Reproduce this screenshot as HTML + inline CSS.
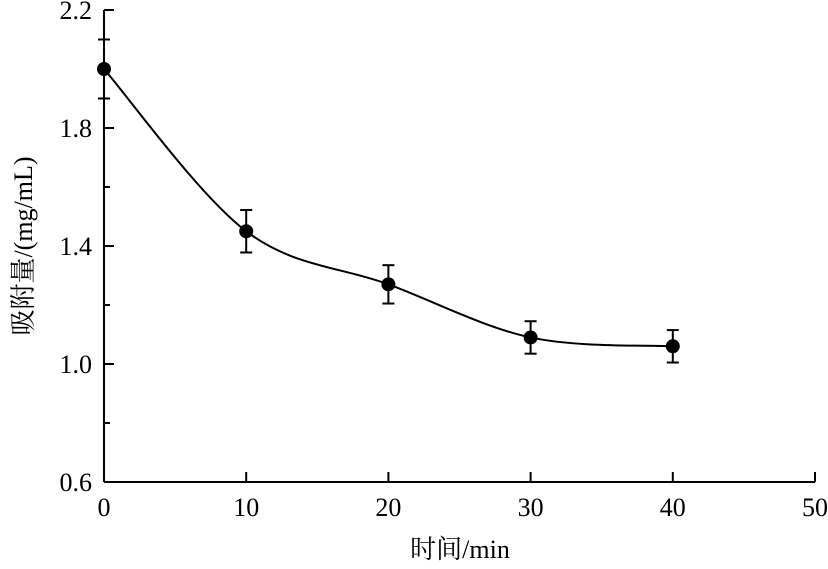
<!DOCTYPE html>
<html><head><meta charset="utf-8"><style>
body{margin:0;background:#fff}
svg text{font-family:"Liberation Serif","Noto Serif CJK SC",serif;fill:#000}
</style></head><body>
<svg id="chart" width="828" height="564" viewBox="0 0 828 564" xmlns="http://www.w3.org/2000/svg">
<g id="axes"></g><g id="series"></g>
<text x="460" y="558" font-size="26" text-anchor="middle">时间/min</text>
<text transform="translate(32,246) rotate(-90)" font-size="26" text-anchor="middle">吸附量/(mg/mL)</text>
</svg>
<script>
const times=[0,10,20,30,40];
const adsorption=[2.0,1.45,1.27,1.09,1.06];
const errors=[0.1,0.072,0.065,0.055,0.055];
const xTicks=[0,10,20,30,40,50];
const yTicks=[0.6,1.0,1.4,1.8,2.2];
const yMinor=[0.8,1.2,1.6,2.0];
const X0=104,X1=815,Y0=482,Y1=10;
const sx=v=>X0+(v-0)/(50-0)*(X1-X0);
const sy=v=>Y0-(v-0.6)/(2.2-0.6)*(Y0-Y1);
const NS='http://www.w3.org/2000/svg';
function mk(tag,attrs,parent){const e=document.createElementNS(NS,tag);for(const k in attrs)e.setAttribute(k,attrs[k]);parent.appendChild(e);return e;}
const ax=document.getElementById('axes');
let l=mk('line',{x1:X0,y1:Y0,x2:X1,y2:Y0,stroke:'#000','stroke-width':2},ax);


l=mk('line',{x1:X0,y1:Y0,x2:X0,y2:Y1,stroke:'#000','stroke-width':2},ax);


xTicks.forEach(v=>{
  const t=mk('line',{x1:sx(v),y1:Y0,x2:sx(v),y2:Y0-10,stroke:'#000','stroke-width':2},ax);
  
  
  const tx=mk('text',{x:sx(v),y:Y0+34,'font-size':26,'text-anchor':'middle'},ax);tx.textContent=v;
  
  
});
yTicks.forEach(v=>{
  const t=mk('line',{x1:X0,y1:sy(v),x2:X0+10,y2:sy(v),stroke:'#000','stroke-width':2},ax);
  
  
  const tx=mk('text',{x:X0-12,y:sy(v)+9,'font-size':26,'text-anchor':'end'},ax);tx.textContent=v.toFixed(1);
  
  
});
yMinor.forEach(v=>{
  const t=mk('line',{x1:X0,y1:sy(v),x2:X0+6,y2:sy(v),stroke:'#000','stroke-width':2},ax);
  
  
});
const se=document.getElementById('series');
const pts=times.map((t,i)=>[sx(t),sy(adsorption[i])]);
let d='M'+pts[0][0]+','+pts[0][1];
for(let i=0;i<pts.length-1;i++){
  const p0=pts[Math.max(i-1,0)],p1=pts[i],p2=pts[i+1],p3=pts[Math.min(i+2,pts.length-1)];
  const c1=[p1[0]+(p2[0]-p0[0])/6,p1[1]+(p2[1]-p0[1])/6];
  const c2=[p2[0]-(p3[0]-p1[0])/6,p2[1]-(p3[1]-p1[1])/6];
  d+=` C${c1[0]},${c1[1]} ${c2[0]},${c2[1]} ${p2[0]},${p2[1]}`;
}
const path=mk('path',{d:d,fill:'none',stroke:'#000','stroke-width':2},se);


times.forEach((t,i)=>{
  const x=sx(t),yt=sy(adsorption[i]+errors[i]),yb=sy(adsorption[i]-errors[i]);
  const g=mk('g',{},se);
  
  
  mk('line',{x1:x,y1:yt,x2:x,y2:yb,stroke:'#000','stroke-width':2},g);
  mk('line',{x1:x-6,y1:yt,x2:x+6,y2:yt,stroke:'#000','stroke-width':2},g);
  mk('line',{x1:x-6,y1:yb,x2:x+6,y2:yb,stroke:'#000','stroke-width':2},g);
  const c=mk('circle',{cx:x,cy:sy(adsorption[i]),r:7,fill:'#000'},se);
  
  
});
</script>
</body></html>
